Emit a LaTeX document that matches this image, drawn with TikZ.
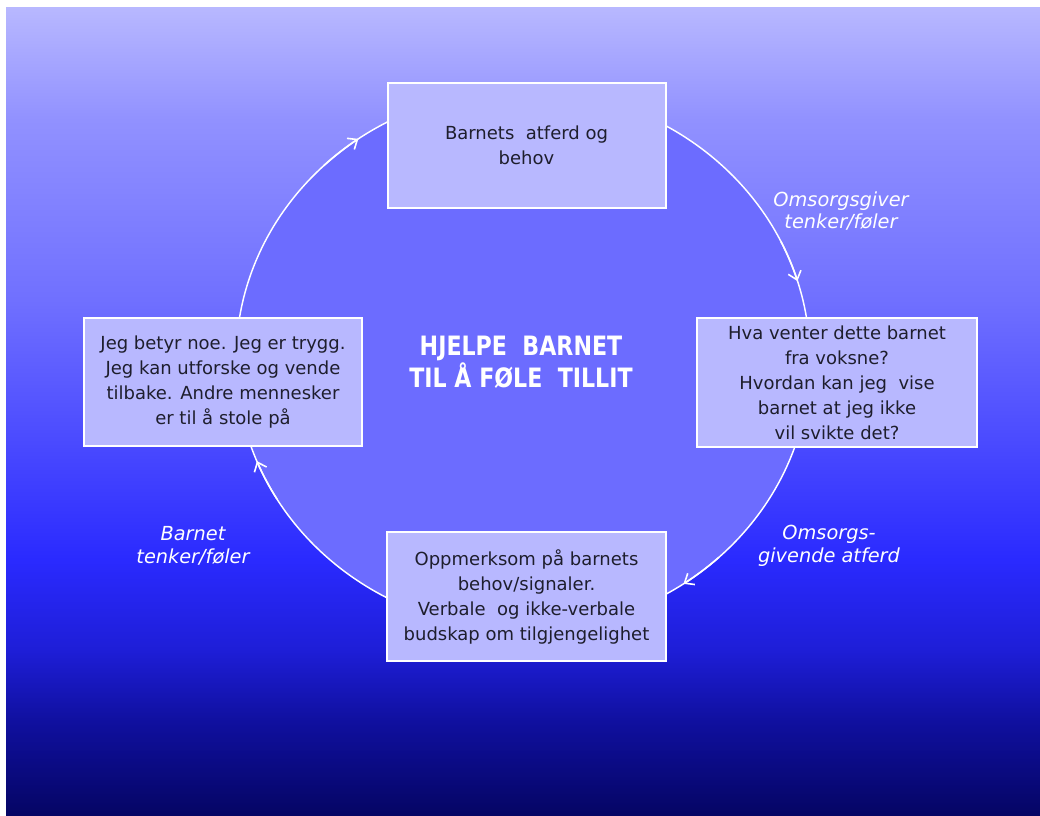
\documentclass[tikz,border=0pt]{standalone}
\usepackage{fontspec}
\usepackage{graphicx}
\setmainfont{DejaVu Sans}
\usetikzlibrary{arrows.meta,calc}
\definecolor{boxfill}{RGB}{184,184,255}
\definecolor{ringfill}{RGB}{108,108,255}
\definecolor{txt}{RGB}{30,30,45}
\definecolor{bgA}{RGB}{5,5,100}
\definecolor{bgB}{RGB}{16,16,160}
\definecolor{bgC}{RGB}{30,30,215}
\definecolor{bgD}{RGB}{42,42,255}
\definecolor{bgE}{RGB}{72,72,255}
\definecolor{bgF}{RGB}{112,112,255}
\definecolor{bgG}{RGB}{145,145,255}
\definecolor{bgH}{RGB}{184,184,255}
\pgfdeclareverticalshading{bgshade}{100bp}{color(0bp)=(bgA); color(25bp)=(bgA); color(30.9bp)=(bgB); color(35.2bp)=(bgC); color(40.8bp)=(bgD); color(47.6bp)=(bgE); color(56.9bp)=(bgF); color(68bp)=(bgG); color(75bp)=(bgH); color(100bp)=(bgH)}
\tikzset{
  boxn/.style={draw=white, line width=1.5pt, fill=boxfill, text=txt, align=center,
    font=\fontsize{13.5}{18.75}\selectfont, inner sep=0pt},
  lbl/.style={text=white, align=center, font=\fontsize{14.5}{17}\selectfont\itshape},
  ttl/.style={text=white, align=center, font=\fontsize{20}{24}\selectfont\bfseries},
  ringline/.style={draw=white, line width=1.1pt, fill=ringfill},
  barbarc/.style={draw=white, line width=1.2pt, -{Straight Barb[length=6pt,width=10pt]}}
}
\begin{document}
\begin{tikzpicture}[x=0.75pt,y=-0.75pt]
\useasboundingbox (0,0) rectangle (1040,815);
\fill[white] (0,0) rectangle (1040,815);
\shade[shading=bgshade] (6,7) rectangle (1040,815);
\coordinate (c) at (523,360);
\draw[ringline] (c) ellipse [x radius=287, y radius=270];
\draw[barbarc] ($(c)+(334:287 and 270)$) arc[start angle=334, end angle=343, x radius=287, y radius=270];
\draw[barbarc] ($(c)+(47:287 and 270)$) arc[start angle=47, end angle=56, x radius=287, y radius=270];
\draw[barbarc] ($(c)+(149:287 and 270)$) arc[start angle=149, end angle=158, x radius=287, y radius=270];
\draw[barbarc] ($(c)+(226:287 and 270)$) arc[start angle=226, end angle=235, x radius=287, y radius=270];
\node[boxn, minimum width=208.5pt, minimum height=93.75pt] (top) at (526.5,145.5)
  {Barnets\ \ atferd og\\behov};
\node[boxn, minimum width=210pt, minimum height=96.75pt] (right) at (837,382.5)
  {Hva venter dette barnet\\fra voksne?\\Hvordan kan jeg\ \ vise\\barnet at jeg ikke\\vil svikte det?};
\node[boxn, minimum width=208.5pt, minimum height=96pt] (left) at (223,382)
  {Jeg betyr noe. Jeg er trygg.\\Jeg kan utforske og vende\\tilbake. Andre mennesker\\er til å stole på};
\node[boxn, minimum width=209.25pt, minimum height=96.75pt] (bottom) at (526.5,596.5)
  {Oppmerksom på barnets\\behov/signaler.\\Verbale\ \ og ikke-verbale\\budskap om tilgjengelighet};
\node[ttl] (title) at (521,362)
  {\scalebox{0.83}[1]{HJELPE\ \ BARNET}\\\scalebox{0.83}[1]{TIL Å FØLE\ \ TILLIT}};
\node[lbl] (l1) at (841,211) {Omsorgsgiver\\tenker/føler};
\node[lbl] (l2) at (829,546) {Omsorgs-\\givende atferd};
\node[lbl] (l3) at (193,546) {Barnet\\tenker/føler};
\end{tikzpicture}
\end{document}
